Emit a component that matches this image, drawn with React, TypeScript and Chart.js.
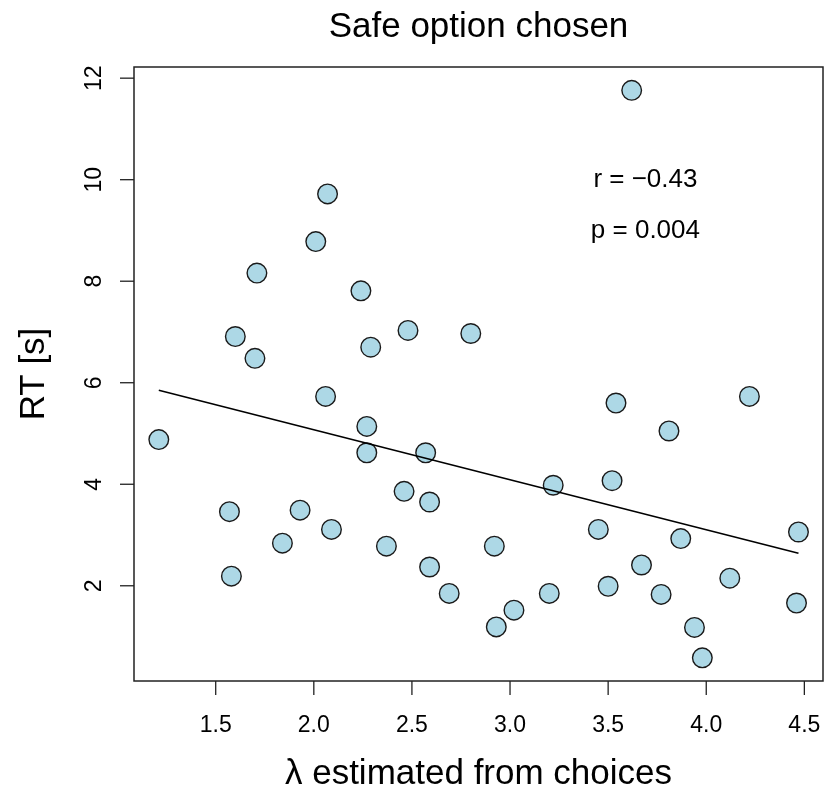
import React, { useEffect, useRef } from "react";
import { Chart, registerables } from "chart.js";

Chart.register(...registerables);

// λ estimated from choices (x) and RT in seconds (y), one entry per participant
const lambdaValues = [
  2.07, 2.01, 1.71, 2.24, 2.48, 1.6, 2.29, 1.7, 3.62, 2.8,
  2.06, 1.21, 2.27, 2.27, 2.57, 2.46, 2.59, 1.57, 1.93, 2.09,
  1.84, 2.37, 2.59, 1.58, 2.69, 3.54, 3.81, 4.22, 3.22, 3.52,
  3.45, 3.87, 4.47, 2.92, 3.67, 4.12, 3.5, 3.2, 3.77, 4.46,
  3.02, 2.93, 3.94, 3.98,
];
const rtValues = [
  9.72, 8.78, 8.16, 7.81, 7.03, 6.91, 6.7, 6.48, 11.76, 6.97,
  5.73, 4.88, 5.14, 4.62, 4.62, 3.86, 3.65, 3.46, 3.49, 3.11,
  2.84, 2.78, 2.37, 2.19, 1.85, 5.6, 5.05, 5.73, 3.98, 4.07,
  3.11, 2.93, 3.06, 2.78, 2.41, 2.15, 1.99, 1.85, 1.83, 1.66,
  1.52, 1.19, 1.18, 0.58,
];
// regression line end points
const fitX = [1.21, 4.47];
const fitY = [5.85, 2.64];

const xTicks = [1.5, 2.0, 2.5, 3.0, 3.5, 4.0, 4.5];
const xTickLabels = ["1.5", "2.0", "2.5", "3.0", "3.5", "4.0", "4.5"];
const yTicks = [2, 4, 6, 8, 10, 12];
const yTickLabels = ["2", "4", "6", "8", "10", "12"];

const titleText = "Safe option chosen";
const xTitle = "λ estimated from choices";
const yTitle = "RT [s]";
const annotations = [
  { x: 3.69, y: 10, text: "r = \u22120.43" },
  { x: 3.69, y: 9, text: "p = 0.004" },
];

const FONT = "'Liberation Sans', Arial, Helvetica, sans-serif";

const decorPlugin = {
  id: "rDecor",
  afterDraw(chart: any) {
    const { ctx, chartArea } = chart;
    const xs = chart.scales.x;
    const ys = chart.scales.y;
    const { left, right, top, bottom } = chartArea;
    ctx.save();
    // box
    ctx.strokeStyle = "#222";
    ctx.lineWidth = 1.5;
    ctx.strokeRect(left, top, right - left, bottom - top);

    // x ticks
    ctx.lineWidth = 1.3;
    ctx.fillStyle = "#000";
    ctx.font = `23px ${FONT}`;
    ctx.textAlign = "center";
    ctx.textBaseline = "alphabetic";
    xTicks.forEach((v, i) => {
      const px = xs.getPixelForValue(v);
      ctx.beginPath();
      ctx.moveTo(px, bottom);
      ctx.lineTo(px, bottom + 14);
      ctx.stroke();
      ctx.fillText(xTickLabels[i], px, 732);
    });
    // y ticks
    yTicks.forEach((v, i) => {
      const py = ys.getPixelForValue(v);
      ctx.beginPath();
      ctx.moveTo(left, py);
      ctx.lineTo(left - 14, py);
      ctx.stroke();
      ctx.save();
      ctx.translate(101, py);
      ctx.rotate(-Math.PI / 2);
      ctx.fillText(yTickLabels[i], 0, 0);
      ctx.restore();
    });

    // title
    ctx.font = `35px ${FONT}`;
    ctx.fillText(titleText, (left + right) / 2, 37);
    // x title
    ctx.fillText(xTitle, (left + right) / 2, 784);
    // y title
    ctx.save();
    ctx.translate(44, (top + bottom) / 2);
    ctx.rotate(-Math.PI / 2);
    ctx.fillText(yTitle, 0, 0);
    ctx.restore();

    // annotations
    ctx.font = `26px ${FONT}`;
    ctx.textBaseline = "middle";
    annotations.forEach((a) => {
      ctx.fillText(a.text, xs.getPixelForValue(a.x), ys.getPixelForValue(a.y));
    });
    ctx.restore();
  },
};

export default function App() {
  const ref = useRef<HTMLCanvasElement | null>(null);
  useEffect(() => {
    document.body.style.margin = "0";
    if (!ref.current) return;
    const points = lambdaValues.map((x, i) => ({ x, y: rtValues[i] }));
    const line = fitX.map((x, i) => ({ x, y: fitY[i] }));
    const chart = new Chart(ref.current, {
      type: "scatter",
      data: {
        datasets: [
          {
            type: "line",
            data: line,
            borderColor: "#000",
            borderWidth: 1.6,
            pointRadius: 0,
            fill: false,
            order: 0,
          } as any,
          {
            data: points,
            backgroundColor: "#ADD8E6",
            borderColor: "#1a1a1a",
            borderWidth: 1.4,
            pointRadius: 9.8,
            pointHoverRadius: 9.8,
            order: 1,
          },
        ],
      },
      options: {
        responsive: false,
        animation: false,
        events: [],
        layout: { padding: { left: 134, top: 67, right: 12, bottom: 110 } },
        plugins: { legend: { display: false }, tooltip: { enabled: false } },
        scales: {
          x: { type: "linear", min: 1.0836, max: 4.595, display: false },
          y: { type: "linear", min: 0.124, max: 12.22, display: false },
        },
      },
      plugins: [decorPlugin],
    });
    return () => chart.destroy();
  }, []);
  return (
    <div style={{ width: 835, height: 791, background: "#fff" }}>
      <canvas ref={ref} width={835} height={791} style={{ display: "block" }} />
    </div>
  );
}
